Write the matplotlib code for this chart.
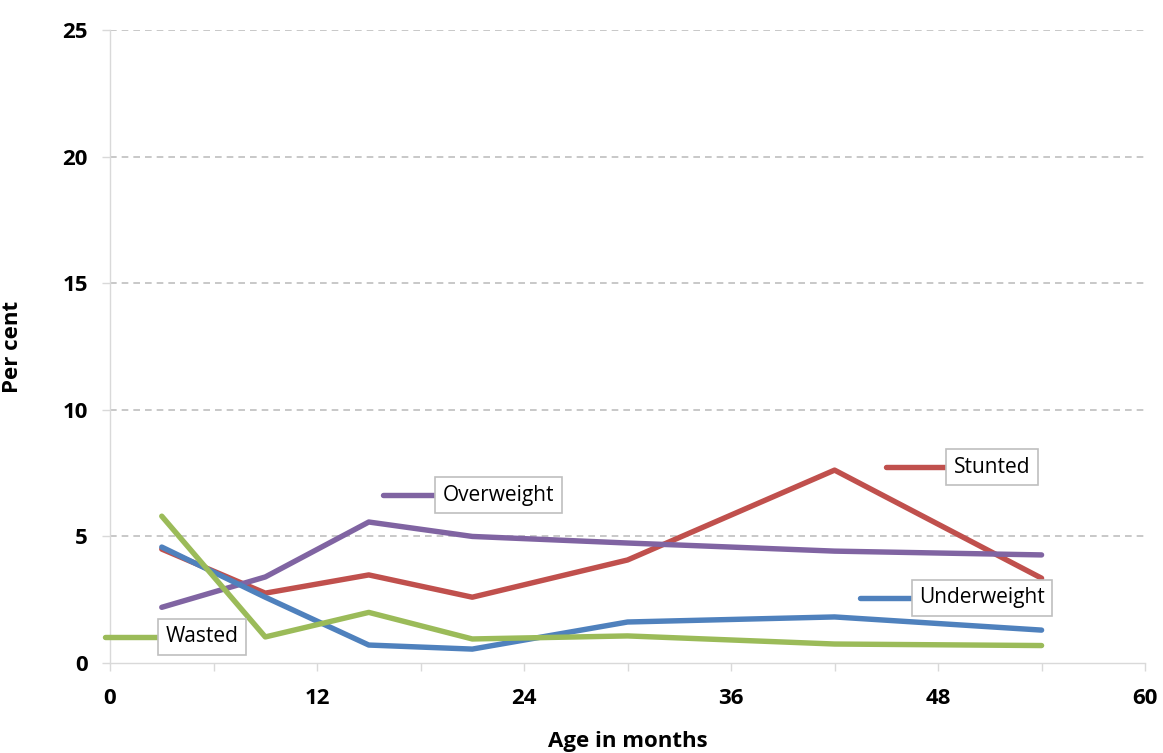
import numpy as np
import matplotlib.pyplot as plt

plt.rcParams['font.family'] = ['Open Sans', 'DejaVu Sans']

# age midpoints (months)
ages = [3, 9, 15, 21, 30, 42, 54]

stunted = [4.5, 2.76, 3.48, 2.6, 4.07, 7.62, 3.35]
overweight = [2.2, 3.4, 5.57, 5.0, 4.74, 4.42, 4.27]
underweight = [4.58, 2.6, 0.71, 0.55, 1.62, 1.82, 1.3]
wasted = [5.8, 1.03, 2.0, 0.95, 1.07, 0.75, 0.69]

series = [
    ("Stunted", stunted, '#C0504D'),
    ("Overweight", overweight, '#8064A2'),
    ("Underweight", underweight, '#4F81BD'),
    ("Wasted", wasted, '#9BBB59'),
]

# callout label placement: (line start x, line end x, y)
label_pos = {
    "Stunted": (45.0, 48.6, 7.74),
    "Overweight": (15.8, 19.0, 6.63),
    "Underweight": (43.5, 46.6, 2.57),
    "Wasted": (-0.3, 2.9, 1.03),
}

fig = plt.figure(figsize=(11.63, 7.53), dpi=100)
ax = fig.add_axes([0.0946, 0.1195, 0.89, 0.8405])

for name, vals, color in series:
    ax.plot(ages, vals, color=color, linewidth=3.9, solid_capstyle='round',
            solid_joinstyle='round', zorder=3)

for name, vals, color in series:
    x0, x1, y = label_pos[name]
    ax.plot([x0, x1], [y, y], color=color, linewidth=3.9,
            solid_capstyle='round', clip_on=False, zorder=4)
    ax.text(x1 + 0.3, y, name, fontsize=15, ha='left', va='center', zorder=5,
            bbox=dict(boxstyle='square,pad=0.36', facecolor='white',
                      edgecolor='#BFBFBF', linewidth=1.2))

ax.set_xlim(0, 60)
ax.set_ylim(0, 25)
ax.set_xticks(np.arange(0, 61, 12))
ax.set_xticks(np.arange(0, 61, 6), minor=True)
ax.set_yticks(np.arange(0, 26, 5))

for v in range(5, 26, 5):
    ax.axhline(v, color='#BFBFBF', linestyle=(0, (4, 3)), linewidth=1.2, zorder=1)

for s in ['top', 'right']:
    ax.spines[s].set_visible(False)
for s in ['left', 'bottom']:
    ax.spines[s].set_color('#D9D9D9')
    ax.spines[s].set_linewidth(1.0)

ax.tick_params(axis='both', which='both', color='#D9D9D9', length=6, width=1.0)
ax.tick_params(axis='x', which='major', pad=12)
ax.tick_params(axis='y', which='major', pad=10)
for lab in ax.get_xticklabels() + ax.get_yticklabels():
    lab.set_fontsize(16)
    lab.set_fontweight('bold')

ax.set_xlabel("Age in months", fontsize=16, fontweight='bold', labelpad=16)
ax.set_ylabel("Per cent", fontsize=16, fontweight='bold', labelpad=28)

fig.savefig('out.png', dpi=100)
